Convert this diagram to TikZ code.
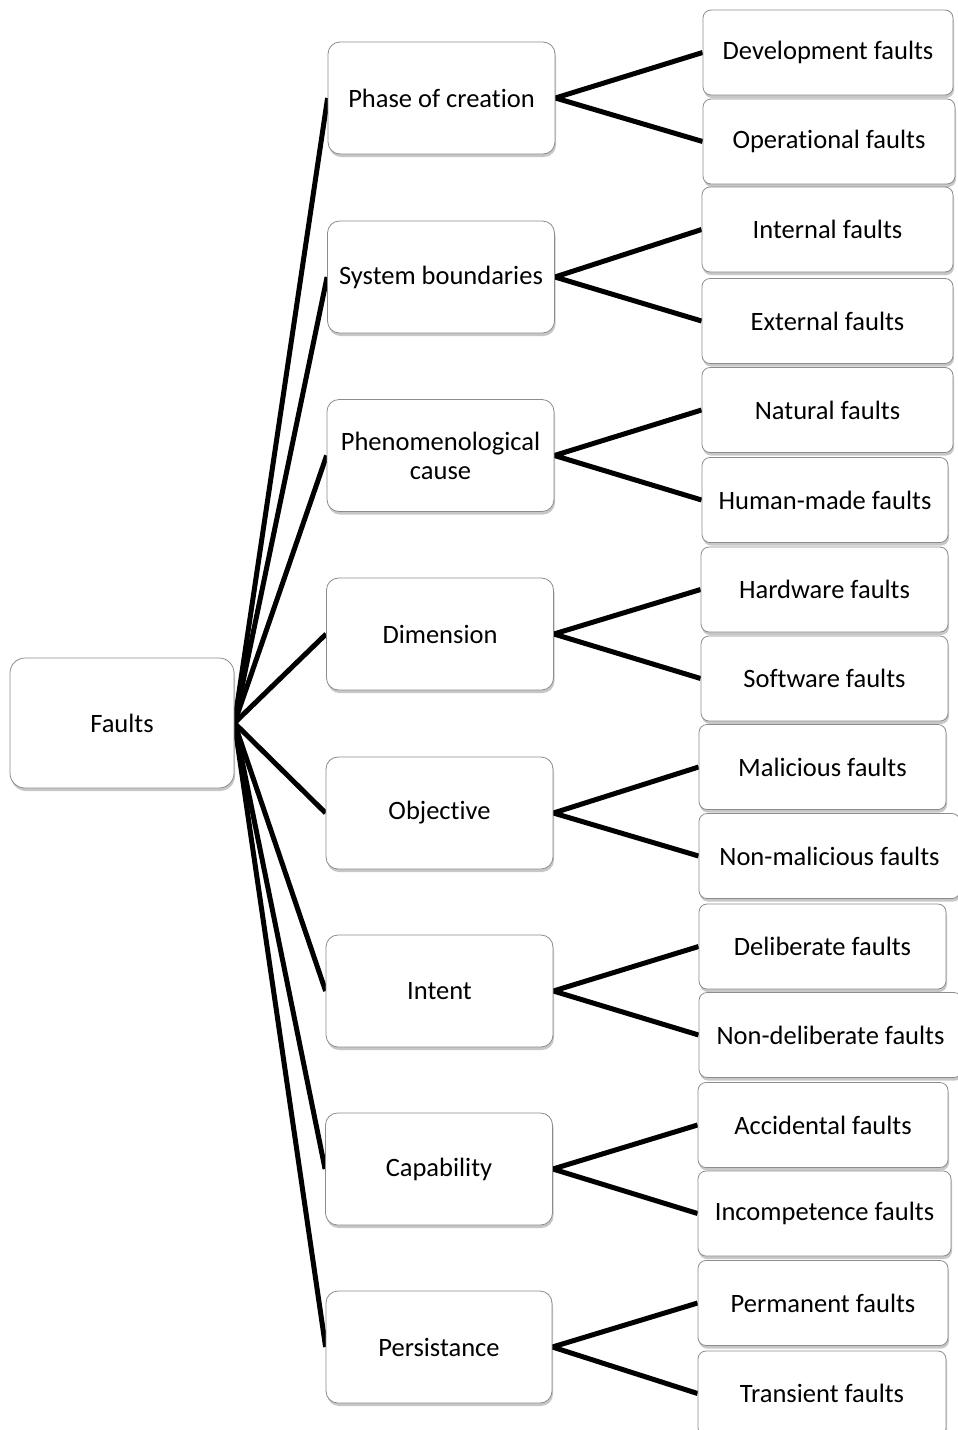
\documentclass[tikz,border=0pt]{standalone}
\usepackage{fontspec}
\setmainfont[RawFeature={-liga;-dlig;-clig}]{Carlito}
\usetikzlibrary{shadows,backgrounds}
\tikzset{
  box/.style={draw=black!45, line width=0.8pt, fill=white, rounded corners=#1,
    inner sep=0pt, align=center, font=\fontsize{26.5}{29}\selectfont,
    drop shadow={shadow xshift=1pt, shadow yshift=-3pt, fill=black, opacity=0.22}},
  rootbox/.style={box=15pt, minimum width=224pt, minimum height=130pt},
  midbox/.style={box=12pt, minimum width=227pt, minimum height=112pt},
  leafbox/.style={box=8pt, minimum width=#1, minimum height=85pt},
  conn/.style={draw=black, line width=5pt}
}
\begin{document}
\begin{tikzpicture}[x=1pt,y=-1pt]
\useasboundingbox (0,0) rectangle (958,1430);
\clip (0,0) rectangle (958,1430);

\node[rootbox] (F) at (122,723) {Faults};

\node[midbox] (m1) at (441.5,98) {Phase of creation};
\node[midbox] (m2) at (441,277) {System boundaries};
\node[midbox] (m3) at (440.5,455.5) {Phenomenological\\cause};
\node[midbox] (m4) at (440,634) {Dimension};
\node[midbox] (m5) at (439.5,813) {Objective};
\node[midbox] (m6) at (439.5,991) {Intent};
\node[midbox] (m7) at (439,1169) {Capability};
\node[midbox, minimum width=226pt] (m8) at (439,1347) {Persistance};

\node[leafbox=250pt] (l1) at (828,52.5) {Development faults};
\node[leafbox=252pt] (l2) at (829,141.5) {Operational faults};
\node[leafbox=251pt] (l3) at (827.5,229.5) {Internal faults};
\node[leafbox=251pt] (l4) at (827.5,321) {External faults};
\node[leafbox=251pt] (l5) at (827.5,410) {Natural faults};
\node[leafbox=246pt] (l6) at (825,500) {Human-made faults};
\node[leafbox=247pt] (l7) at (824.5,589.5) {Hardware faults};
\node[leafbox=247pt] (l8) at (824.5,678.5) {Software faults};
\node[leafbox=247pt] (l9) at (822.5,767) {Malicious faults};
\node[leafbox=261pt] (l10) at (829.5,856) {Non-malicious faults};
\node[leafbox=247pt] (l11) at (822.5,946.5) {Deliberate faults};
\node[leafbox=263pt] (l12) at (830.5,1035) {Non-deliberate faults};
\node[leafbox=250pt] (l13) at (823,1125) {Accidental faults};
\node[leafbox=253pt] (l14) at (824.5,1213.5) {Incompetence faults};
\node[leafbox=250pt] (l15) at (823,1303) {Permanent faults};
\node[leafbox=248pt] (l16) at (822,1393.5) {Transient faults};

\begin{scope}[on background layer]
\fill[white] (0,0) rectangle (958,1430);
\foreach \m in {1,...,8}{
  \draw[conn] (F.east) -- (m\m.west);
}
\foreach \m/\a/\b in {1/1/2,2/3/4,3/5/6,4/7/8,5/9/10,6/11/12,7/13/14,8/15/16}{
  \draw[conn] (l\a.west) -- (m\m.east) -- (l\b.west);
}
\end{scope}
\end{tikzpicture}
\end{document}
